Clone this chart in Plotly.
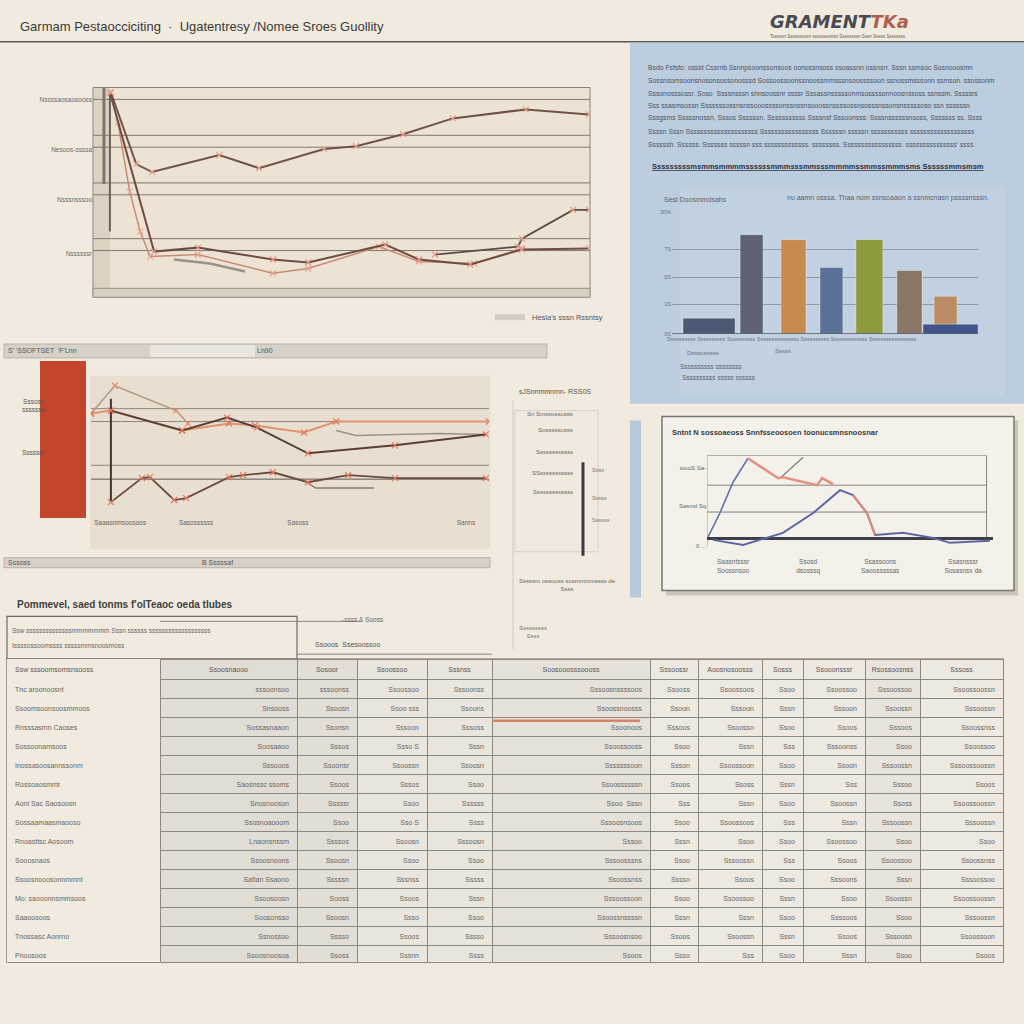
import plotly.graph_objects as go

W, H = 1024, 1024
BG = "#f1ebdf"
FONT = "Liberation Sans, Arial, sans-serif"
NARROW = "Liberation Sans Narrow, Liberation Sans, Arial, sans-serif"


def fx(p):
    return p / W


def fy(p):
    return 1 - p / H


# ---------------- Chart A (top-left multi-line chart)
a_up_x = [3.6, 8.7, 11.9, 25.4, 33.4, 46.5, 52.9, 62.4, 72.4, 87.1, 99.8]
a_up_y = [97.6, 63.3, 59.5, 67.6, 61.4, 70.5, 71.9, 77.6, 85.2, 89.5, 87.1]
a_low_x = [3.4, 12.3, 21.1, 36.2, 43.3, 58.8, 65.6, 75.9, 86.3, 99.8]
a_low_y = [97.6, 21.4, 23.3, 17.6, 16.2, 24.8, 17.6, 15.2, 22.4, 22.9]
a_mid_x = [5.0, 7.4, 9.5, 11.5, 21.1, 36.2, 43.3, 57.5, 65.6, 76.7, 86.3]
a_mid_y = [83.3, 50.0, 31.0, 19.0, 20.0, 11.0, 13.3, 23.8, 16.7, 15.7, 22.9]
a_rise_x = [68.8, 85.5, 86.3, 96.6, 99.8]
a_rise_y = [20.0, 23.8, 27.6, 41.4, 41.4]
a_short_x = [16.3, 23.5, 30.6]
a_short_y = [17.6, 15.7, 11.9]
a_stem1_x = [2.2, 2.2]
a_stem1_y = [100.0, 53.8]
a_stem2_x = [3.4, 3.4]
a_stem2_y = [97.6, 31.0]
a_grid = [94.3, 77.1, 71.4, 54.3, 48.6, 27.6, 21.9]
a_tickvals = [94.3, 70.0, 46.2, 20.5]
a_ticktext = ["Nssssaosaosooss", "Nesoos-ssssa", "Nsssnsssoo", "Nssssssr"]

# ---------------- Chart B (middle-left multi-line chart)
b_arc_x = [0.0, 6.0, 21.4, 24.4]
b_arc_y = [74.5, 94.3, 76.6, 67.4]
b_dark_x = [5.0, 22.9, 34.2, 41.7, 54.5, 76.4, 99.2]
b_dark_y = [76.6, 62.4, 71.6, 64.5, 46.1, 51.8, 59.6]
b_orange_x = [0.0, 5.0, 22.9, 34.7, 41.2, 53.5, 61.6, 100.0]
b_orange_y = [74.5, 76.6, 62.4, 67.4, 66.0, 61.0, 68.8, 68.8]
b_gray_x = [61.6, 66.6, 87.4, 99.2]
b_gray_y = [62.4, 58.9, 60.3, 59.6]
b_low_x = [5.0, 12.8, 14.8, 20.9, 23.9, 34.7, 38.2, 45.7, 54.5, 64.6, 76.4, 99.2]
b_low_y = [11.3, 28.4, 29.1, 12.8, 14.2, 29.1, 30.5, 32.6, 25.5, 30.5, 28.4, 28.4]
b_low2_x = [54.5, 56.5, 71.1]
b_low2_y = [24.8, 21.3, 21.3]
b_stem_x = [5.0, 5.0]
b_stem_y = [85.1, 11.3]
b_grid = [78.0, 68.8, 37.6, 27.7]
b_tickvals = [7.3, 26.4, 52.0, 94.2]
b_ticktext = ["Saaasnmsoosoos", "Sasossssss", "Sasoss", "Sanns"]

# red side bar
red_bar_x = [0]
red_bar_y = [1.0]

# ---------------- Chart C (right small line chart)
c_blue1_x = [0.4, 4.6, 9.3, 14.6]
c_blue1_y = [6.8, 34.1, 69.3, 96.6]
c_red_x = [14.6, 25.4, 27.1, 39.3, 41.1, 45.0]
c_red_y = [96.6, 73.9, 75.0, 65.9, 73.9, 67.0]
c_gray_x = [26.1, 34.3]
c_gray_y = [73.9, 97.7]
c_blue2_x = [2.1, 12.9, 27.1, 37.9, 47.5, 52.1, 57.1, 60.0, 70.0, 80.7, 86.8, 101.0]
c_blue2_y = [3.4, -2.3, 11.4, 34.1, 60.2, 54.5, 34.1, 9.1, 11.4, 5.7, 0.0, 2.3]
c_red2_x = [52.1, 57.1, 60.0]
c_red2_y = [54.5, 34.1, 9.1]
c_grid = [100.0, 65.9, 35.2]
c_base = 5.0
c_tickvals = [9.3, 36.1, 61.8, 91.4]
c_ticktext = ["Saasntsssr<br>Soossnsoo", "Ssosd<br>dsosssq", "Ssassoons<br>Saoosssssas", "Ssasnsssr<br>Sosasnsx da"]
c_ytickvals = [85.2, 42.0, -3.4]
c_yticktext = ["ioooS Sa-", "Sasnsl Sq", "0 ..."]

# ---------------- Chart D (bar chart in blue panel)
d_pos = [12.1, 26.0, 39.7, 52.1, 64.5, 77.6, 89.4, 91.0]
d_vals = [13.0, 81.3, 77.2, 54.5, 77.2, 52.0, 30.9, 8.1]
d_width = [17.0, 7.5, 8.2, 7.5, 8.8, 8.2, 7.5, 18.0]
d_colors = ["#4d5874", "#5e6272", "#c98a4f", "#5c7196", "#8d9a3d", "#8a7665", "#bb8b63", "#41558a"]
d_tickvals = [0, 24.4, 46.3, 69.1, 100]
d_ticktext = ["0S", "1S", "SS", "7S", "30%"]

# ---------------- Table
tbl_header = ["Ssw sssoomsomsnsooss", "Ssoosnaooo", "Sosoor", "Ssoossoo", "Sssnss",
              "Soosooosssoooss", "Sssoossr", "Aoosnosoosss", "Sosss", "Ssooonsssr",
              "Rsossoosnss", "Sssoss"]
tbl_c0 = ["Tnc aroonoosnt", "Ssoomsoonsoosmmoos", "Rnsssasmn Caoses", "Sossoonamsoos",
          "Inossasoosannssonm", "Rossoaosmmt", "Aonl Sac Saosoosn", "Sossaamaasmaooso",
          "Rnoasttsc Aosoom", "Sooosnaos", "Ssoosnooosonnmmnt", "Mo: saooonnsmmsoos",
          "Saaoosoos", "Tnossasc Aonrno", "Pnoosoos"]
tbl_c1 = ["sssoonsoo", "Snsooss", "Sossasnaaon", "Soosaaoo", "Sssooos", "Saosnssc ssoms",
          "Snosnooson", "Ssosnoaooom", "Lnaonsnssm", "Ssoosnoons", "Saflan Ssaono",
          "Ssoosoosn", "Soosonsso", "Ssnossoo", "Ssoosnoosoa"]
tbl_c2 = ["sssoonss", "Ssoosn", "Ssonsn", "Sssos", "Ssoonsr", "Ssoos", "Sssssr", "Ssoo",
          "Ssssos", "Ssoosn", "Sssssn", "Sooss", "Ssoosn", "Sssso", "Ssoss"]
tbl_c3 = ["Ssoossoo", "Ssoo sss", "Sssoon", "Ssso S", "Ssoossn", "Sssos", "Ssoo", "Sso S",
          "Ssoosn", "Ssoo", "Sssnss", "Ssoos", "Ssso", "Ssoos", "Sssnn"]
tbl_c4 = ["Sssoonss", "Ssoons", "Sssoss", "Sssn", "Ssoosn", "Ssoo", "Ssssss", "Ssss",
          "Sssoosn", "Ssoo", "Sssss", "Sssn", "Ssoo", "Sssso", "Ssss"]
tbl_c5 = ["Sssoosnssssoos", "Ssoossnoosss", "Ssoonoos", "Ssoossooss", "Sssssssoon",
          "Ssoossssssn", "Ssoo  Sssn", "Sssoosnsoos", "Sssoo", "Sssoosssns", "Ssoossnss",
          "Sssoossoon", "Ssoossnssssn", "Sssoosnsoo", "Ssoos"]
tbl_c6 = ["Ssooss", "Ssoon", "Sssoos", "Ssoo", "Ssson", "Ssoos", "Sss", "Ssoo", "Sssn",
          "Ssoo", "Ssssn", "Ssoo", "Sssn", "Ssoos", "Ssso"]
tbl_c7 = ["Ssoossoos", "Sssoon", "Ssoossn", "Sssn", "Ssoossoon", "Ssoss", "Sssn",
          "Ssoossoos", "Ssoo", "Sssoossn", "Ssoos", "Ssoossoo", "Sssn", "Ssoossn", "Sss"]
tbl_c8 = ["Ssoo", "Sssn", "Ssoo", "Sss", "Ssoo", "Sssn", "Ssoo", "Sss", "Ssoo", "Sss",
          "Ssoo", "Sssn", "Ssoo", "Sssn", "Ssoo"]
tbl_c9 = ["Ssoossoo", "Sssoon", "Ssoos", "Sssoonss", "Ssoon", "Sss", "Ssoossn", "Sssn",
          "Ssoossoo", "Ssoos", "Sssoons", "Ssoo", "Ssssoos", "Ssoos", "Sssn"]
tbl_c10 = ["Sssoossoo", "Ssoossn", "Sssoos", "Ssoo", "Sssoossn", "Sssoo", "Ssoss",
           "Sssoossn", "Ssoo", "Ssoossoo", "Sssn", "Ssoossn", "Ssoo", "Sssoosn", "Ssoo"]
tbl_c11 = ["Ssoossoossn", "Sssoossn", "Ssoossnss", "Ssoossoo", "Sssoossoossn", "Ssoos",
           "Ssoossoossn", "Sssoossn", "Ssoo", "Ssoossnss", "Sssoossoo", "Ssoossoossn",
           "Sssoossn", "Ssoossoon", "Ssoos"]
tbl_widths = [153, 137, 60, 70, 65, 158, 48, 64, 41, 62, 55, 83]

# ---------------- Text blocks
title_text = "Garmam Pestaocciciting  ·  Ugatentresy /Nomee Sroes Guollity"
panel_lines = [
    "Bsdo Fsfsfo: ossst Cssrnb Ssnnpsoonssonsoos oonossnsoss ssoassnn ossnsrr. Sssn ssmsoc Sosnooosmn",
    "Sossnsomsoonsnosonsossonosssd Sossoossoonssnoossmmsssnsoossssoon ssnossmsssonn ssmson. ssossonm",
    "Sssonosssossr. Soso  Ssssnsssn snnsoossnr ssssr Sssassnsssssonmsossssonnoosnssoss ssnssm. Sssssrs",
    "Sss ssasmsossn Sssssssossnsnssooossssonssnssnsooossnssssossnsosssnssonsnsssssoso ssn ssssssn",
    "Sssgsms Sssssnossn, Sssos Ssssssn. Sssssssssss Ssssnsf Sssoonsss: Ssssnssssssnsoss, Sssssss ss. Ssss",
    "Ssssn Sssn Sssssssssssssssssssss Sssssssssssssssss Ssssssn sssssn sssssssssss sssssssssssssssssss",
    "Ssssssh. Ssssss. Sssssss sssssn sss sssssssssssss. ssssssss. Sssssssssssssssss. sssssssssssssss' ssss.",
]
panel_lines_y = [65, 78, 91, 103, 116, 129, 142]
side_labels = ["Sn Smssossosss", "Sosssssosss", "Ssssssssssss", "SSsssssssssss", "Sssssssssssss"]
side_labels_y = [413, 430, 452, 473, 492]

fig = go.Figure()


def line(xs, ys, color, width, xa="x", ya="y", markers=False, mcolor=None, dash=None):
    fig.add_trace(go.Scatter(
        x=xs, y=ys, xaxis=xa, yaxis=ya,
        mode="lines+markers" if markers else "lines",
        line=dict(color=color, width=width, dash=dash),
        marker=dict(symbol="x-thin", size=6, line=dict(width=1.2, color=mcolor or color)),
        hoverinfo="skip", showlegend=False,
    ))


# Chart A traces
line(a_stem1_x, a_stem1_y, "#7d7570", 3)
line(a_stem2_x, a_stem2_y, "#6b605a", 2)
line(a_short_x, a_short_y, "#9a918a", 2.5)
line(a_mid_x, a_mid_y, "#c98a78", 1.5, markers=True, mcolor="#e6a493")
line(a_low_x, a_low_y, "#6e4c42", 2, markers=True, mcolor="#e39a8a")
line(a_rise_x, a_rise_y, "#5e4a44", 1.8, markers=True, mcolor="#e39a8a")
line(a_up_x, a_up_y, "#6f5248", 2, markers=True, mcolor="#e8a090")

# Chart B traces
line(b_stem_x, b_stem_y, "#3e3632", 2, "x2", "y2")
line(b_arc_x, b_arc_y, "#b39482", 1.5, "x2", "y2", markers=True, mcolor="#e58a70")
line(b_gray_x, b_gray_y, "#9b918a", 1.5, "x2", "y2")
line(b_orange_x, b_orange_y, "#e0936e", 2, "x2", "y2", markers=True, mcolor="#e07a5f")
line(b_dark_x, b_dark_y, "#5a3f38", 2, "x2", "y2", markers=True, mcolor="#e07a5f")
line(b_low2_x, b_low2_y, "#8a7a70", 1.5, "x2", "y2")
line(b_low_x, b_low_y, "#6a4a40", 1.8, "x2", "y2", markers=True, mcolor="#e07a5f")

# red side bar
fig.add_trace(go.Bar(x=red_bar_x, y=red_bar_y, width=[1.0], xaxis="x5", yaxis="y5",
                     marker=dict(color="#c2452c", line=dict(width=0)),
                     hoverinfo="skip", showlegend=False))

# Chart C traces
line(c_blue2_x, c_blue2_y, "#5d66a0", 2, "x3", "y3")
line(c_red2_x, c_red2_y, "#e08a78", 2, "x3", "y3")
line(c_blue1_x, c_blue1_y, "#6670a8", 1.6, "x3", "y3")
line(c_gray_x, c_gray_y, "#6c6c74", 1.2, "x3", "y3")
line(c_red_x, c_red_y, "#e4907e", 2.5, "x3", "y3")

# Chart D bars
fig.add_trace(go.Bar(x=d_pos, y=d_vals, width=d_width, xaxis="x4", yaxis="y4",
                     marker=dict(color=d_colors, line=dict(width=1, color="rgba(255,255,255,0.35)")),
                     hoverinfo="skip", showlegend=False))

# Table
fill_cols = ["#f1ebdf", "#e2ddd4", "#e3ded5", "#ebe6dd", "#ebe6dd", "#e6e1d9",
             "#eee9e0", "#eee9e0", "#eee9e0", "#eee9e0", "#e9e4db", "#eee9e0"]
line_cols = ["#f1ebdf"] + ["#8d8882"] * 11
fig.add_trace(go.Table(
    domain=dict(x=[fx(7), fx(1003)], y=[fy(965), fy(660)]),
    columnwidth=tbl_widths,
    header=dict(values=tbl_header, height=20, align=["left"] + ["center"] * 11,
                fill=dict(color=fill_cols), line=dict(color=line_cols, width=1),
                font=dict(family=NARROW, size=7, color="#555")),
    cells=dict(values=[tbl_c0, tbl_c1, tbl_c2, tbl_c3, tbl_c4, tbl_c5, tbl_c6,
                       tbl_c7, tbl_c8, tbl_c9, tbl_c10, tbl_c11],
               height=19, align=["left"] + ["right"] * 11,
               fill=dict(color=fill_cols), line=dict(color=line_cols, width=1),
               font=dict(family=NARROW, size=7, color="#666")),
))

shapes = []


def rect(x0, y0, x1, y1, fill, lc="rgba(0,0,0,0)", lw=0, layer="below"):
    shapes.append(dict(type="rect", xref="paper", yref="paper",
                       x0=fx(x0), x1=fx(x1), y0=fy(y1), y1=fy(y0),
                       fillcolor=fill, line=dict(color=lc, width=lw), layer=layer))


def pline(x0, y0, x1, y1, color, width=1, layer="below"):
    shapes.append(dict(type="line", xref="paper", yref="paper",
                       x0=fx(x0), x1=fx(x1), y0=fy(y0), y1=fy(y1),
                       line=dict(color=color, width=width), layer=layer))


# page structure
pline(0, 39, 1024, 39, "#5a5650", 1.5)
rect(630, 40, 1024, 403, "#bccddf")
rect(680, 185, 1005, 395, "rgba(210,222,235,0.25)")
rect(630, 420, 641, 598, "#b8c9dc")

# chart A panel
rect(93, 85, 590, 296, "#ece3d4", "#8a8278", 1)
rect(93, 85, 110, 296, "rgba(170,158,140,0.25)")
rect(93, 287, 590, 296, "#d8d0c2", "#9a9288", 1)
for g in a_grid:
    shapes.append(dict(type="line", xref="x", yref="y", x0=0, x1=100, y0=g, y1=g,
                       line=dict(color="#7f786f", width=1), layer="below"))
rect(495, 313, 525, 319, "rgba(180,175,168,0.5)")

# chart B area
rect(4, 343, 547, 357, "#d7d1c7", "#b8b2a8", 1)
rect(150, 344, 255, 356, "#ebe6dd")
rect(90, 375, 490, 550, "#e8dfd0")
for g in b_grid:
    shapes.append(dict(type="line", xref="x2", yref="y2", x0=0, x1=100, y0=g, y1=g,
                       line=dict(color="#5e5750" if g < 30 else "#8e867c", width=1), layer="below"))
rect(4, 558, 490, 568, "#d7d1c7", "#b8b2a8", 1)

# middle side column
rect(515, 410, 598, 552, "#efe9de", "#d8d2c8", 1)
pline(513, 400, 513, 650, "#d0c9bd", 1)
pline(583, 462, 583, 556, "#3a3a40", 3)

# chart C box
rect(666, 420, 1018, 596, "rgba(90,85,80,0.25)")
rect(662, 416, 1014, 591, "#f4f1ea", "#7a7670", 1.5)
for g in c_grid:
    shapes.append(dict(type="line", xref="x3", yref="y3", x0=0, x1=99.8, y0=g, y1=g,
                       line=dict(color="#85827e", width=1), layer="below"))
shapes.append(dict(type="line", xref="x3", yref="y3", x0=99.8, x1=99.8, y0=c_base, y1=100,
                   line=dict(color="#85827e", width=1), layer="below"))
shapes.append(dict(type="line", xref="x3", yref="y3", x0=0, x1=0, y0=-4.5, y1=100,
                   line=dict(color="#a09c98", width=1), layer="below"))
shapes.append(dict(type="line", xref="x3", yref="y3", x0=0, x1=102.1, y0=c_base, y1=c_base,
                   line=dict(color="#3e3e48", width=3), layer="below"))

# chart D baseline
shapes.append(dict(type="line", xref="x4", yref="y4", x0=0, x1=100, y0=0, y1=0,
                   line=dict(color="#555a66", width=1.5), layer="above"))

# table frame
rect(7, 617, 297, 660, "rgba(0,0,0,0)", "#6e6a64", 1.2)
rect(7, 660, 1003, 965, "rgba(0,0,0,0)", "#6e6a64", 1.2)
pline(160, 622, 360, 622, "#8a857e", 1)
pline(297, 655, 492, 655, "#8a857e", 1)
pline(492, 667, 625, 667, "#8a857e", 1)
pline(492, 722, 640, 722, "#d4846a", 2.5, "above")

annotations = []


def txt(x, y, t, size=7, color="#5a5a5a", xanchor="left", family=FONT, bold=False, yanchor="middle"):
    if bold:
        t = "<b>" + t + "</b>"
    annotations.append(dict(x=fx(x), y=fy(y), xref="paper", yref="paper", text=t,
                            showarrow=False, xanchor=xanchor, yanchor=yanchor,
                            font=dict(size=size, color=color, family=family)))


txt(18, 24, title_text, 13, "#3a3a3a")
annotations.append(dict(x=fx(768), y=fy(19), xref="paper", yref="paper",
                        text="<b><i>GRAMENT</i></b><span style='color:#b0604a'><b><i>TKa</i></b></span>",
                        showarrow=False, xanchor="left", yanchor="middle",
                        font=dict(size=18, color="#4a4a52", family="DejaVu Sans, sans-serif")))
txt(768, 34, "Tsssssn Ssssssossn sssossosnsn Ssssssssn Sssn Sssss Ssssssss", 4.5, "#6a5a50")

for t, yy in zip(panel_lines, panel_lines_y):
    txt(646, yy, t, 6.8, "#4c5262")
txt(650, 164, "<u>Sssssssssmsmmsmmmmssssssmmmsssmmsssmmmmssmmssmmmsms Ssssssmmsmsm</u>", 7.5, "#2c2f38", bold=True)
txt(662, 198, "Sesl Doosmmdsahs", 7, "#5a6070")
txt(785, 196, "nu aamn osssa. Thaa nom ssnsoaaon a ssnmcnasn pssssnsssn.", 7, "#5a6070")
txt(665, 338, "Ssssssssss Ssssssssss Ssssssssss Sssssssssssssss Ssssssssss Sssssssssssss Sssssssssssssssss", 5.5, "#6a7080")
txt(685, 352, "Dsssosssss", 6, "#6a7080")
txt(773, 350, "Sssss", 6, "#6a7080")
txt(678, 366, "Ssssssssss ssssssss", 6.5, "#5a6070")
txt(680, 377, "Ssssssssss sssss ssssss", 6.5, "#5a6070")

txt(605, 316, "Hesia's sssn Rssntsy", 7.5, "#555", xanchor="right")

txt(6, 350, "S' 'SSOFTSET  'F'Lnn", 7, "#555")
txt(255, 350, "Ln90", 7, "#555")
txt(20, 405, "Sssoss<br>sssssso", 6.5, "#555")
txt(20, 452, "Ssssso", 6.5, "#555")
txt(6, 563, "Sssoss", 7, "#555")
txt(200, 563, "B Sssssaf", 7, "#555")
txt(517, 391, "sJSnnmmnmn- RSS0S", 7, "#555")
for t, yy in zip(side_labels, side_labels_y):
    txt(575, yy, t, 6, "#666", xanchor="right")
txt(590, 470, "Ssss", 5.5, "#777")
txt(590, 498, "Sssss", 5.5, "#777")
txt(590, 520, "Ssssss", 5.5, "#777")
txt(517, 585, "Sssssm ossooss sosmmmmssss de<br>Ssss", 6, "#666")
txt(517, 633, "Sssssssss<br>Ssss", 6, "#777")
txt(670, 432, "Sntnt N sossoaeoss Snnfsseoosoen toonucsmnsnoosnar", 7.5, "#3a3a3a", bold=True)

txt(15, 605, "Pommevel, saed tonms f'olTeaoc oeda tlubes", 10, "#3e3e3e", bold=True)
txt(10, 631, "Ssw ssssssssssssssmmmmmmm Sssn ssssss sssssssssssssssssss", 6.5, "#666")
txt(10, 646, "Issssossoomssss sssssmmsnoosmoss", 6.5, "#666")
txt(340, 620, "-ssss & Sooss", 6.5, "#666")
txt(313, 645, "Ssooos  Ssesoossoo", 7, "#555")

axis_hidden = dict(visible=False, fixedrange=True)

fig.update_layout(
    width=W, height=H, autosize=False,
    margin=dict(l=0, r=0, t=0, b=0, pad=0),
    paper_bgcolor=BG, plot_bgcolor="rgba(0,0,0,0)",
    showlegend=False, bargap=0, barmode="overlay",
    font=dict(family=FONT, color="#555"),
    shapes=shapes, annotations=annotations,
    xaxis=dict(domain=[fx(93), fx(590)], range=[0, 100], anchor="y", **axis_hidden),
    yaxis=dict(domain=[fy(295), fy(85)], range=[0, 100], anchor="x",
               tickvals=a_tickvals, ticktext=a_ticktext, showgrid=False, zeroline=False,
               showline=False, ticks="", tickfont=dict(size=6.5, color="#6a6a6a", family=NARROW),
               fixedrange=True),
    xaxis2=dict(domain=[fx(91), fx(489)], range=[0, 100], anchor="y2",
                tickvals=b_tickvals, ticktext=b_ticktext, showgrid=False, zeroline=False,
                showline=False, ticks="", tickfont=dict(size=6.5, color="#666", family=NARROW),
                fixedrange=True),
    yaxis2=dict(domain=[fy(518), fy(377)], range=[0, 100], anchor="x2", **axis_hidden),
    xaxis3=dict(domain=[fx(707), fx(993)], range=[0, 102.1], anchor="y3",
                tickvals=c_tickvals, ticktext=c_ticktext, showgrid=False, zeroline=False,
                showline=False, ticks="", ticklabelstandoff=10,
                tickfont=dict(size=6.5, color="#666", family=NARROW), fixedrange=True),
    yaxis3=dict(domain=[fy(547), fy(455)], range=[-4.5, 100], anchor="x3",
                tickvals=c_ytickvals, ticktext=c_yticktext, showgrid=False, zeroline=False,
                showline=False, ticks="", tickfont=dict(size=6, color="#666", family=NARROW),
                fixedrange=True),
    xaxis4=dict(domain=[fx(672), fx(978)], range=[0, 100], anchor="y4", **axis_hidden),
    yaxis4=dict(domain=[fy(333), fy(210)], range=[0, 100], anchor="x4",
                tickvals=d_tickvals, ticktext=d_ticktext, showgrid=True,
                gridcolor="#8e98a6", gridwidth=1, zeroline=False, showline=False, ticks="",
                tickfont=dict(size=5.5, color="#6a7080"), fixedrange=True),
    xaxis5=dict(domain=[fx(40), fx(86)], range=[-0.5, 0.5], anchor="y5", **axis_hidden),
    yaxis5=dict(domain=[fy(518), fy(360)], range=[0, 1], anchor="x5", **axis_hidden),
)

fig.write_html("out.html", post_script="document.body.style.margin='0';",
               config={"displayModeBar": False, "staticPlot": True})
